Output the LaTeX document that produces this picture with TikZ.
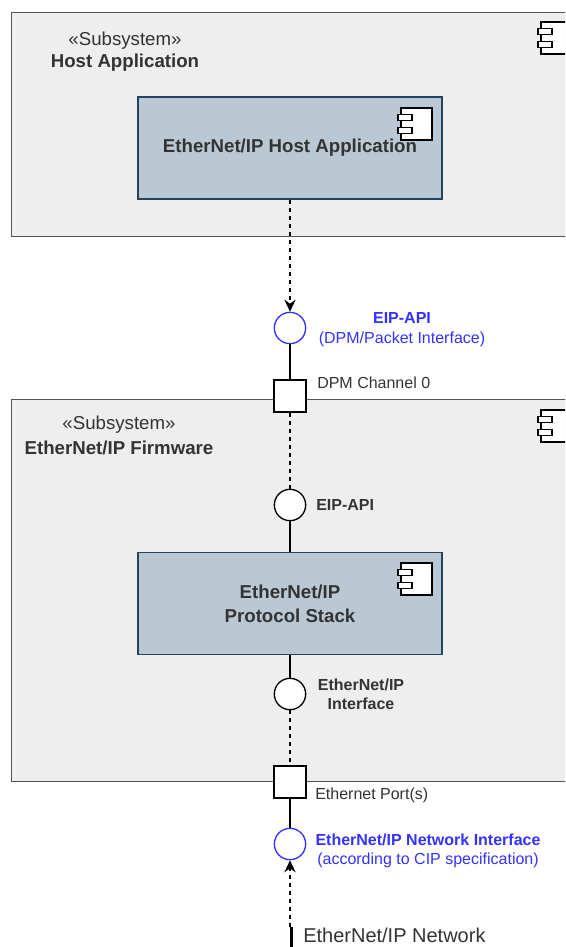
\documentclass[tikz,border=0pt]{standalone}
\usepackage{fontspec}
\setmainfont{Liberation Sans}
\usetikzlibrary{arrows.meta}
\definecolor{subfill}{HTML}{EEEEEE}
\definecolor{subdraw}{HTML}{555555}
\definecolor{compfill}{HTML}{BAC8D3}
\definecolor{compdraw}{HTML}{23445D}
\definecolor{txt}{HTML}{333333}
\definecolor{ifblue}{HTML}{3333FF}
\begin{document}
\begin{tikzpicture}[x=0.75pt,y=-0.75pt,
  subbox/.style={draw=subdraw, fill=subfill, line width=1pt, anchor=north west, inner sep=0pt},
  compbox/.style={draw=compdraw, fill=compfill, line width=1pt, inner sep=0pt,
     minimum width=228pt, minimum height=76.5pt, text=txt, align=center,
     font=\fontsize{14}{18}\selectfont\bfseries},
  portbox/.style={draw=black, fill=white, line width=1pt, minimum size=24pt, inner sep=0pt},
  iface/.style={circle, draw=black, fill=white, line width=1pt, minimum size=23.5pt, inner sep=0pt},
  bluface/.style={iface, draw=ifblue},
  maintxt/.style={inner sep=0pt, text=txt, font=\fontsize{14}{18}\selectfont},
  smalltxt/.style={inner sep=0pt, text=txt, font=\fontsize{12}{14.4}\selectfont},
  bluetxt/.style={inner sep=0pt, text=ifblue, align=center, font=\fontsize{12}{15}\selectfont},
  solidline/.style={draw=black, line width=1pt},
  dashline/.style={draw=black, line width=1pt, dash pattern=on 3pt off 3pt},
  tipped/.style={-{Stealth[length=9pt,width=8.5pt,inset=3pt]}},
  compicon/.pic={
    \draw[fill=white, draw=black, line width=1pt] (0,0) rectangle (31,32);
    \draw[fill=white, draw=black, line width=1pt] (-3,6.5) rectangle (11,12.5);
    \draw[fill=white, draw=black, line width=1pt] (-3,19.5) rectangle (11,25.5);
  }
]
\useasboundingbox (0,0) rectangle (565,947);
\clip (0,0) rectangle (565,947);

% Host Application subsystem
\node[subbox, minimum width=426.75pt, minimum height=168pt] (hostsub) at (11,12) {};
\pic at (541,22) {compicon};
\node[maintxt] (hoststereo) at (125,41) {«Subsystem»};
\node[maintxt, font=\fontsize{14}{18}\selectfont\bfseries] (hostname) at (125,63) {Host Application};
\node[compbox] (hostapp) at (290,148) {EtherNet/IP Host Application};
\pic at (401,108) {compicon};

% Firmware subsystem
\node[subbox, minimum width=426.75pt, minimum height=286.5pt] (fwsub) at (11,399) {};
\pic at (541,410) {compicon};
\node[maintxt] (fwstereo) at (119,425) {«Subsystem»};
\node[maintxt, font=\fontsize{14}{18}\selectfont\bfseries] (fwname) at (119,448) {EtherNet/IP Firmware};
\node[compbox, font=\fontsize{14}{18}\selectfont\bfseries] (stack) at (290,603.5) {EtherNet/IP\\Protocol Stack};
\pic at (401,563) {compicon};

% interfaces and ports
\node[bluface] (eipapi) at (290,328) {};
\node[bluetxt] (eipapilbl) at (402,329.5) {\textbf{EIP-API}\\(DPM/Packet Interface)};
\node[portbox] (dpm) at (290,396) {};
\node[smalltxt, anchor=west] (dpmlbl) at (317,383) {DPM Channel 0};
\node[iface] (eipint) at (290,505) {};
\node[smalltxt, anchor=west, font=\fontsize{12}{14.4}\selectfont\bfseries] (eipintlbl) at (316,505) {EIP-API};
\node[iface] (enipif) at (290,694) {};
\node[smalltxt, align=center, font=\fontsize{12}{14.4}\selectfont\bfseries] (enipiflbl) at (361,694.5) {EtherNet/IP\\Interface};
\node[portbox] (ethport) at (290,782) {};
\node[smalltxt, anchor=west] (ethportlbl) at (315,795) {Ethernet Port(s)};
\node[bluface] (netif) at (290,844) {};
\node[bluetxt, font=\fontsize{12}{14.4}\selectfont] (netiflbl) at (428,850.5) {\textbf{EtherNet/IP Network Interface}\\(according to CIP specification)};

% network end
\coordinate (netend) at (290,927);
\coordinate (bartop) at (291,927);
\coordinate (barbot) at (291,947);
\node[inner sep=0pt, anchor=west, text=txt, font=\fontsize{15}{18}\selectfont] (netlbl) at (303,935) {EtherNet/IP Network};

% connectors
\draw[dashline, tipped] (hostapp.south) -- (eipapi.north);
\draw[solidline] (eipapi.south) -- (dpm.north);
\draw[dashline] (dpm.south) -- (eipint.north);
\draw[solidline] (eipint.south) -- (stack.north);
\draw[solidline] (stack.south) -- (enipif.north);
\draw[dashline] (enipif.south) -- (ethport.north);
\draw[solidline] (ethport.south) -- (netif.north);
\draw[dashline, tipped] (netend) -- (netif.south);
\draw[draw=black, line width=2.25pt] (bartop) -- (barbot);
\end{tikzpicture}
\end{document}
